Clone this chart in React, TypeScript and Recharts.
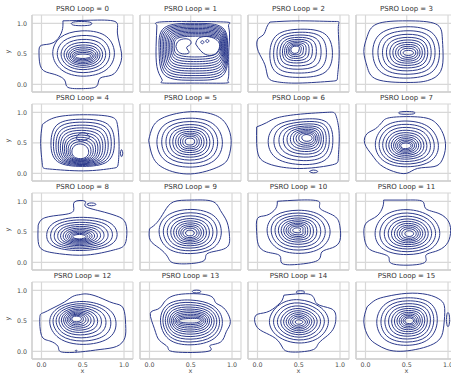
import React from "react";
import { LineChart, Line, XAxis, YAxis, CartesianGrid } from "recharts";

type Pt = [number, number];

// one panel per PSRO loop, 4 x 4
const loops = [0, 1, 2, 3, 4, 5, 6, 7, 8, 9, 10, 11, 12, 13, 14, 15];
const axisTicks = [0, 0.5, 1];

// lowest density level (wobbly outline)
const outerRings: Pt[][] = [
  [[0.26, 1.04], [0.59, 1.05], [0.89, 1.03], [0.92, 0.84], [0.97, 0.51], [0.94, 0.29], [0.85, 0.15], [0.71, 0.1], [0.67, -0.03], [0.51, -0.07], [0.32, -0.05], [0.28, 0.07], [0.14, 0.17], [0.0, 0.26], [-0.03, 0.51], [0.0, 0.64], [0.14, 0.68], [0.24, 0.84], [0.26, 0.97]],
  [[0.09, 0.97], [0.12, 1.02], [0.51, 1.03], [0.93, 1.02], [0.96, 0.98], [0.97, 0.84], [0.96, 0.51], [0.96, 0.15], [0.95, 0.05], [0.92, 0.02], [0.55, 0.02], [0.18, 0.02], [0.15, 0.05], [0.14, 0.11], [0.09, 0.29], [0.08, 0.62]],
  [[0.15, 1.02], [0.52, 1.04], [0.93, 1.03], [0.98, 0.95], [0.99, 0.51], [0.97, 0.13], [0.89, 0.05], [0.5, 0.02], [0.24, 0.04], [0.13, 0.11], [0.09, 0.32], [0.01, 0.54], [0.0, 0.73], [0.07, 0.81], [0.11, 0.93]],
  [[0.02, 0.78], [0.14, 0.99], [0.5, 1.04], [0.85, 0.99], [0.93, 0.78], [0.94, 0.51], [0.91, 0.21], [0.75, 0.06], [0.5, 0.03], [0.14, 0.08], [0.02, 0.29], [-0.02, 0.54]],
  [[0.01, 0.8], [0.18, 0.92], [0.51, 0.96], [0.83, 0.93], [0.92, 0.8], [0.94, 0.49], [0.93, 0.16], [0.85, 0.08], [0.51, 0.04], [0.1, 0.07], [0.01, 0.15], [-0.01, 0.49]],
  [[-0.01, 0.54], [0.04, 0.76], [0.18, 0.92], [0.5, 1.01], [0.8, 0.95], [0.94, 0.78], [0.99, 0.54], [0.96, 0.27], [0.84, 0.11], [0.5, -0.01], [0.18, 0.08], [0.04, 0.27]],
  [[-0.01, 0.76], [0.11, 0.83], [0.24, 0.91], [0.52, 0.97], [0.85, 1.0], [0.95, 0.95], [0.99, 0.65], [0.98, 0.27], [0.91, 0.14], [0.56, 0.08], [0.26, 0.11], [0.11, 0.17], [0.02, 0.27], [-0.01, 0.49]],
  [[0.22, 0.87], [0.34, 0.92], [0.67, 0.92], [0.85, 0.83], [0.94, 0.65], [0.97, 0.43], [0.93, 0.22], [0.83, 0.11], [0.63, 0.08], [0.5, 0.0], [0.34, 0.03], [0.18, 0.14], [0.08, 0.3], [-0.01, 0.49], [0.02, 0.65], [0.12, 0.73]],
  [[-0.04, 0.61], [0.04, 0.73], [0.26, 0.78], [0.39, 0.85], [0.4, 0.99], [0.53, 1.0], [0.53, 0.92], [0.71, 0.84], [0.91, 0.76], [1.02, 0.64], [1.03, 0.39], [0.99, 0.26], [0.87, 0.2], [0.55, 0.12], [0.22, 0.14], [0.02, 0.2], [-0.04, 0.34]],
  [[0.0, 0.55], [0.09, 0.65], [0.18, 0.83], [0.29, 0.99], [0.51, 1.02], [0.76, 1.0], [0.86, 0.85], [0.94, 0.66], [0.97, 0.42], [0.92, 0.23], [0.71, 0.15], [0.67, 0.04], [0.51, -0.02], [0.29, -0.01], [0.22, 0.09], [0.12, 0.23], [0.01, 0.36]],
  [[0.24, 1.0], [0.5, 1.02], [0.74, 1.0], [0.76, 0.88], [0.93, 0.76], [1.0, 0.58], [1.0, 0.36], [0.91, 0.24], [0.78, 0.17], [0.74, 0.04], [0.52, -0.03], [0.3, -0.02], [0.27, 0.11], [0.11, 0.17], [0.01, 0.29], [-0.01, 0.5], [0.0, 0.72], [0.11, 0.77], [0.22, 0.88]],
  [[0.22, 1.02], [0.48, 1.02], [0.69, 1.0], [0.73, 0.88], [0.89, 0.8], [1.01, 0.66], [1.03, 0.47], [0.98, 0.29], [0.85, 0.18], [0.73, 0.11], [0.69, -0.02], [0.34, -0.03], [0.28, 0.09], [0.12, 0.17], [0.01, 0.28], [-0.02, 0.5], [0.02, 0.66], [0.14, 0.76], [0.21, 0.91]],
  [[0.47, 0.93], [0.55, 0.94], [0.69, 0.89], [0.87, 0.79], [0.99, 0.71], [1.02, 0.44], [1.01, 0.22], [0.91, 0.08], [0.71, 0.03], [0.47, -0.01], [0.24, -0.01], [0.2, 0.08], [0.1, 0.17], [0.0, 0.26], [-0.02, 0.55], [0.02, 0.63], [0.14, 0.71], [0.28, 0.81], [0.38, 0.9]],
  [[0.18, 0.81], [0.35, 0.93], [0.71, 0.92], [0.8, 0.8], [0.9, 0.71], [0.98, 0.49], [0.93, 0.32], [0.86, 0.15], [0.73, 0.09], [0.71, 0.0], [0.31, -0.01], [0.22, 0.07], [0.12, 0.18], [0.06, 0.37], [0.01, 0.62], [0.1, 0.69]],
  [[0.32, 0.92], [0.64, 0.93], [0.72, 0.78], [0.89, 0.7], [0.95, 0.57], [0.93, 0.4], [0.85, 0.26], [0.74, 0.13], [0.66, 0.02], [0.4, -0.01], [0.3, 0.07], [0.22, 0.21], [0.07, 0.32], [-0.02, 0.43], [-0.02, 0.59], [0.11, 0.64], [0.24, 0.75], [0.3, 0.84]],
  [[0.02, 0.73], [0.12, 0.84], [0.26, 0.9], [0.5, 0.95], [0.75, 0.93], [0.91, 0.84], [0.96, 0.7], [0.95, 0.43], [0.91, 0.22], [0.79, 0.1], [0.61, 0.03], [0.42, 0.0], [0.26, 0.03], [0.14, 0.11], [0.04, 0.23], [-0.02, 0.48]],
];

// second level, points ordered W, NW, N, NE, E, SE, S, SW
const coreRings: Pt[][] = [
  [[0.1, 0.5], [0.2, 0.8], [0.47, 0.9], [0.8, 0.85], [0.92, 0.52], [0.82, 0.2], [0.5, 0.1], [0.22, 0.2]],
  [[0.12, 0.55], [0.1, 1.0], [0.55, 1.0], [0.96, 1.0], [0.94, 0.55], [0.96, 0.06], [0.55, 0.07], [0.12, 0.06]],
  [[0.13, 0.52], [0.2, 0.86], [0.52, 0.92], [0.86, 0.88], [0.93, 0.52], [0.87, 0.14], [0.5, 0.1], [0.18, 0.14]],
  [[0.06, 0.52], [0.14, 0.88], [0.5, 0.97], [0.85, 0.9], [0.92, 0.52], [0.85, 0.15], [0.5, 0.08], [0.15, 0.14]],
  [[0.1, 0.5], [0.15, 0.86], [0.5, 0.9], [0.85, 0.86], [0.9, 0.5], [0.85, 0.14], [0.5, 0.1], [0.14, 0.14]],
  [[0.06, 0.52], [0.15, 0.84], [0.48, 0.93], [0.8, 0.86], [0.92, 0.52], [0.82, 0.16], [0.48, 0.07], [0.15, 0.17]],
  [[0.1, 0.5], [0.18, 0.82], [0.55, 0.9], [0.88, 0.9], [0.93, 0.55], [0.88, 0.18], [0.55, 0.12], [0.2, 0.2]],
  [[0.08, 0.5], [0.22, 0.82], [0.5, 0.88], [0.8, 0.8], [0.92, 0.45], [0.82, 0.15], [0.45, 0.08], [0.18, 0.18]],
  [[0.04, 0.45], [0.12, 0.68], [0.45, 0.76], [0.85, 0.7], [0.95, 0.45], [0.85, 0.24], [0.45, 0.17], [0.1, 0.24]],
  [[0.08, 0.5], [0.18, 0.8], [0.5, 0.9], [0.82, 0.8], [0.9, 0.47], [0.8, 0.2], [0.5, 0.12], [0.2, 0.18]],
  [[0.08, 0.52], [0.18, 0.8], [0.5, 0.88], [0.8, 0.8], [0.92, 0.5], [0.8, 0.2], [0.5, 0.12], [0.2, 0.2]],
  [[0.08, 0.48], [0.2, 0.8], [0.5, 0.9], [0.82, 0.78], [0.94, 0.47], [0.82, 0.18], [0.5, 0.1], [0.18, 0.18]],
  [[0.06, 0.5], [0.18, 0.74], [0.5, 0.86], [0.85, 0.72], [0.93, 0.45], [0.85, 0.18], [0.5, 0.08], [0.18, 0.18]],
  [[0.1, 0.52], [0.2, 0.82], [0.5, 0.86], [0.8, 0.78], [0.92, 0.5], [0.82, 0.17], [0.5, 0.08], [0.2, 0.15]],
  [[0.1, 0.5], [0.25, 0.8], [0.5, 0.88], [0.78, 0.75], [0.9, 0.5], [0.78, 0.2], [0.5, 0.1], [0.22, 0.22]],
  [[0.1, 0.5], [0.22, 0.82], [0.5, 0.9], [0.82, 0.84], [0.9, 0.5], [0.8, 0.16], [0.5, 0.07], [0.2, 0.15]],
];

// highest closed level around the mode, same point order
const peakRings: Pt[][] = [
  [[0.4, 0.46], [0.43, 0.49], [0.5, 0.5], [0.58, 0.49], [0.61, 0.46], [0.57, 0.43], [0.5, 0.42], [0.43, 0.43]],
  [[0.3, 0.62], [0.3, 0.78], [0.55, 0.79], [0.85, 0.79], [0.86, 0.64], [0.84, 0.47], [0.58, 0.44], [0.3, 0.46]],
  [[0.4, 0.57], [0.42, 0.62], [0.47, 0.63], [0.52, 0.61], [0.5, 0.56], [0.5, 0.52], [0.45, 0.5], [0.41, 0.52]],
  [[0.45, 0.52], [0.47, 0.55], [0.52, 0.56], [0.57, 0.55], [0.59, 0.51], [0.56, 0.48], [0.52, 0.47], [0.47, 0.48]],
  [[0.36, 0.34], [0.38, 0.45], [0.47, 0.5], [0.56, 0.44], [0.58, 0.34], [0.55, 0.26], [0.47, 0.23], [0.39, 0.26]],
  [[0.43, 0.52], [0.44, 0.57], [0.49, 0.58], [0.54, 0.57], [0.55, 0.52], [0.54, 0.47], [0.49, 0.46], [0.44, 0.47]],
  [[0.53, 0.58], [0.55, 0.63], [0.6, 0.64], [0.65, 0.62], [0.67, 0.57], [0.64, 0.53], [0.59, 0.52], [0.55, 0.54]],
  [[0.42, 0.45], [0.44, 0.49], [0.49, 0.5], [0.54, 0.49], [0.56, 0.45], [0.53, 0.41], [0.48, 0.4], [0.44, 0.41]],
  [[0.37, 0.42], [0.4, 0.45], [0.46, 0.46], [0.52, 0.45], [0.55, 0.42], [0.51, 0.39], [0.46, 0.38], [0.4, 0.39]],
  [[0.43, 0.48], [0.45, 0.52], [0.49, 0.53], [0.53, 0.52], [0.55, 0.48], [0.53, 0.44], [0.49, 0.43], [0.45, 0.44]],
  [[0.42, 0.52], [0.44, 0.56], [0.49, 0.57], [0.54, 0.55], [0.5, 0.52], [0.54, 0.49], [0.49, 0.48], [0.44, 0.49]],
  [[0.47, 0.47], [0.49, 0.51], [0.53, 0.52], [0.57, 0.51], [0.59, 0.47], [0.57, 0.43], [0.53, 0.42], [0.49, 0.43]],
  [[0.36, 0.53], [0.38, 0.57], [0.42, 0.58], [0.47, 0.57], [0.49, 0.53], [0.47, 0.49], [0.42, 0.48], [0.38, 0.49]],
  [[0.35, 0.5], [0.38, 0.53], [0.5, 0.54], [0.6, 0.54], [0.63, 0.51], [0.6, 0.47], [0.5, 0.46], [0.38, 0.47]],
  [[0.45, 0.48], [0.47, 0.51], [0.5, 0.52], [0.53, 0.51], [0.56, 0.48], [0.53, 0.45], [0.5, 0.44], [0.47, 0.45]],
  [[0.47, 0.5], [0.49, 0.54], [0.53, 0.55], [0.57, 0.54], [0.59, 0.5], [0.57, 0.46], [0.53, 0.45], [0.49, 0.46]],
];

// where each contour level sits between the second level (0) and the top one (1)
const levelSteps: number[][] = [
  [0, 0.2, 0.37, 0.5, 0.61, 0.7, 0.78, 0.86, 0.93, 1],
  [0, 0.1, 0.2, 0.3, 0.4, 0.5, 0.6, 0.7, 0.8, 0.9, 1],
  [0, 0.18, 0.34, 0.48, 0.6, 0.7, 0.79, 0.87, 0.94, 1],
  [0, 0.17, 0.32, 0.45, 0.56, 0.66, 0.75, 0.83, 0.91, 1],
  [0, 0.12, 0.24, 0.35, 0.45, 0.55, 0.64, 0.73, 0.82, 0.91, 1],
  [0, 0.17, 0.32, 0.45, 0.56, 0.66, 0.75, 0.83, 0.91, 1],
  [0, 0.17, 0.32, 0.45, 0.56, 0.66, 0.75, 0.83, 0.91, 1],
  [0, 0.15, 0.29, 0.42, 0.53, 0.63, 0.72, 0.8, 0.87, 0.94, 1],
  [0, 0.15, 0.29, 0.42, 0.53, 0.63, 0.72, 0.8, 0.87, 0.94, 1],
  [0, 0.16, 0.31, 0.44, 0.55, 0.65, 0.74, 0.82, 0.9, 1],
  [0, 0.16, 0.31, 0.44, 0.55, 0.65, 0.74, 0.82, 0.9, 1],
  [0, 0.16, 0.31, 0.44, 0.55, 0.65, 0.74, 0.82, 0.9, 1],
  [0, 0.15, 0.29, 0.42, 0.53, 0.63, 0.72, 0.8, 0.87, 0.94, 1],
  [0, 0.13, 0.26, 0.38, 0.49, 0.59, 0.68, 0.77, 0.85, 0.93, 1],
  [0, 0.16, 0.31, 0.44, 0.55, 0.65, 0.74, 0.82, 0.9, 1],
  [0, 0.15, 0.29, 0.42, 0.53, 0.63, 0.72, 0.8, 0.87, 0.94, 1],
];

// small separate closed contours
const islands: Pt[][][] = [
  [[[0.36, 0.995], [0.41, 1.025], [0.56, 1.025], [0.61, 0.995], [0.56, 0.965], [0.41, 0.965]]],
  [
    [[0.32, 0.62], [0.36, 0.72], [0.47, 0.74], [0.5, 0.66], [0.45, 0.6], [0.48, 0.52], [0.4, 0.5], [0.34, 0.55]],
    [[0.56, 0.66], [0.6, 0.76], [0.72, 0.78], [0.82, 0.72], [0.85, 0.62], [0.8, 0.5], [0.7, 0.48], [0.62, 0.55]],
    [[0.62, 0.69], [0.64, 0.715], [0.66, 0.69], [0.64, 0.665]],
    [[0.68, 0.71], [0.7, 0.735], [0.72, 0.71], [0.7, 0.685]],
  ],
  [],
  [],
  [
    [[0.42, 0.58], [0.46, 0.65], [0.53, 0.66], [0.58, 0.6], [0.54, 0.55], [0.47, 0.53]],
    [[0.955, 0.33], [0.965, 0.38], [0.975, 0.38], [0.985, 0.33], [0.975, 0.28], [0.965, 0.28]],
  ],
  [],
  [[[0.63, 0.03], [0.66, 0.05], [0.7, 0.05], [0.73, 0.03], [0.7, 0.01], [0.66, 0.01]]],
  [[[0.4, 0.99], [0.44, 1.01], [0.56, 1.01], [0.6, 0.99], [0.56, 0.97], [0.44, 0.97]]],
  [[[0.55, 0.95], [0.58, 0.97], [0.63, 0.97], [0.66, 0.95], [0.63, 0.93], [0.58, 0.93]]],
  [],
  [],
  [],
  [[[0.41, 0.01], [0.42, 0.02], [0.43, 0.01], [0.42, 0.0]]],
  [[[0.52, 0.98], [0.54, 1.0], [0.6, 1.0], [0.62, 0.98], [0.6, 0.96], [0.54, 0.96]]],
  [[[0.47, 0.97], [0.49, 0.99], [0.55, 0.99], [0.57, 0.97], [0.55, 0.95], [0.49, 0.95]]],
  [[[0.98, 0.52], [0.99, 0.62], [1.01, 0.62], [1.02, 0.52], [1.01, 0.42], [0.99, 0.42]]],
];

const X_DOMAIN: [number, number] = [-0.115, 1.109];
const Y_DOMAIN: [number, number] = [-0.126, 1.136];
const COL_STEP = 108;
const ROW_STEP = 89;
const CHART_W = 135;
const CHART_H = 99;
const LINE_COLOR = "#2c3a8c";
const GRID_COLOR = "#d8d8d8";
const TICK_STYLE = { fontSize: 6.3, fill: "#4a4a4a" };
// interior panels keep their ticks (the grid follows them) but draw no label
const NoTick = () => <g />;

type Ring = { points: { x: number; y: number }[]; smooth: boolean };

// traced outlines pass through their points (natural spline, closed by repeating the start);
// the nested levels are smoothed closed B-splines
const traced = (ring: Pt[]): Ring => ({
  points: [...ring, ring[0]].map(([x, y]) => ({ x, y })),
  smooth: false,
});
const nested = (ring: Pt[]): Ring => ({ points: ring.map(([x, y]) => ({ x, y })), smooth: true });

function buildRings(i: number): Ring[] {
  const core = coreRings[i];
  const peak = peakRings[i];
  const levels = levelSteps[i].map((t) =>
    core.map(([x, y], k): Pt => [x + (peak[k][0] - x) * t, y + (peak[k][1] - y) * t])
  );
  return [traced(outerRings[i]), ...levels.map(nested), ...islands[i].map(traced)];
}

function ContourPanel({ loop }: { loop: number }) {
  const row = Math.floor(loop / 4);
  const col = loop % 4;
  const showX = row === 3;
  const showY = col === 0;
  const rings = buildRings(loop);

  return (
    <div style={{ position: "absolute", left: col * COL_STEP, top: 13 + row * ROW_STEP }}>
      <LineChart width={CHART_W} height={CHART_H} margin={{ top: 2, right: 2, left: 8, bottom: 0 }}>
        <CartesianGrid stroke={GRID_COLOR} strokeWidth={1.2} />
        <XAxis
          type="number"
          dataKey="x"
          domain={X_DOMAIN}
          ticks={axisTicks}
          allowDataOverflow
          height={20}
          tickLine={false}
          tickSize={0}
          tickMargin={4}
          axisLine={{ stroke: "#cfcfcf", strokeWidth: 1.3 }}
          tick={showX ? TICK_STYLE : NoTick}
          tickFormatter={(v: number) => v.toFixed(1)}
          label={showX ? { value: "x", position: "insideBottom", offset: 6, fontSize: 6.5, fill: "#4a4a4a" } : undefined}
        />
        <YAxis
          type="number"
          domain={Y_DOMAIN}
          ticks={axisTicks}
          allowDataOverflow
          width={24}
          tickLine={false}
          tickSize={0}
          tickMargin={5}
          axisLine={{ stroke: "#cfcfcf", strokeWidth: 1.3 }}
          tick={showY ? TICK_STYLE : NoTick}
          tickFormatter={(v: number) => v.toFixed(1)}
          label={showY ? { value: "y", angle: -90, position: "insideLeft", offset: 0, fontSize: 6.5, fill: "#4a4a4a" } : undefined}
        />
        {rings.map((ring, k) => (
          <Line
            key={k}
            data={ring.points}
            dataKey="y"
            type={ring.smooth ? "basisClosed" : "natural"}
            stroke={LINE_COLOR}
            strokeWidth={1}
            dot={false}
            activeDot={false}
            isAnimationActive={false}
          />
        ))}
      </LineChart>
      <div
        style={{
          position: "absolute",
          left: 32,
          top: -7,
          width: 101,
          textAlign: "center",
          fontSize: 7,
          lineHeight: "7px",
          color: "#333",
          whiteSpace: "nowrap",
        }}
      >
        PSRO Loop = {loop}
      </div>
    </div>
  );
}

export default function App() {
  return (
    <div
      style={{
        position: "absolute",
        left: 0,
        top: 0,
        width: 451,
        height: 374,
        overflow: "hidden",
        background: "#fff",
        fontFamily: "'DejaVu Sans', sans-serif",
      }}
    >
      {loops.map((loop) => (
        <ContourPanel key={loop} loop={loop} />
      ))}
    </div>
  );
}
